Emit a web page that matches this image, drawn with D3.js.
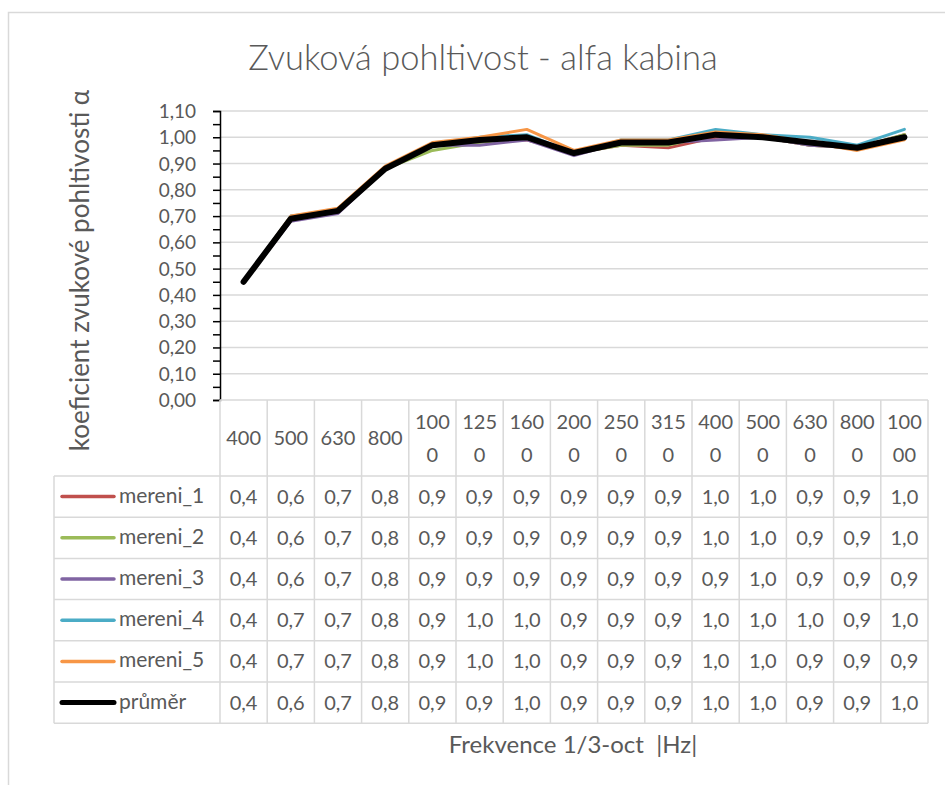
<!DOCTYPE html>
<html>
<head>
<meta charset="UTF-8">
<script src="https://cdn.jsdelivr.net/npm/d3@7"></script>
<style>
  body { margin: 0; background: #fff; }
  text { font-family: Lato, "Open Sans", sans-serif; fill: #595959; white-space: pre; }
  line.grid { stroke: #d9d9d9; stroke-width: 1.5; }
  line.cell { stroke: #d9d9d9; stroke-width: 1.5; }
  path.series { fill: none; stroke-linejoin: round; stroke-linecap: round; }
</style>
</head>
<body>
<script>
// categories (1/3 octave bands, Hz)
var categories = ["400", "500", "630", "800", "1000", "1250", "1600", "2000", "2500", "3150", "4000", "5000", "6300", "8000", "10000"];
// how the header cells wrap the labels
var headerLines = [["400"], ["500"], ["630"], ["800"], ["100", "0"], ["125", "0"], ["160", "0"], ["200", "0"], ["250", "0"], ["315", "0"], ["400", "0"], ["500", "0"], ["630", "0"], ["800", "0"], ["100", "00"]];

var seriesNames = ["mereni_1", "mereni_2", "mereni_3", "mereni_4", "mereni_5", "průměr"];
var seriesColors = ["#c0504d", "#9bbb59", "#8064a2", "#4bacc6", "#f79646", "#000000"];

var mereni_1 = [0.45, 0.69, 0.72, 0.88, 0.97, 0.99, 0.99, 0.94, 0.97, 0.96, 1.00, 1.00, 0.97, 0.96, 1.01];
var mereni_2 = [0.45, 0.69, 0.72, 0.88, 0.95, 0.98, 1.00, 0.94, 0.97, 0.97, 1.01, 1.00, 0.97, 0.96, 1.01];
var mereni_3 = [0.45, 0.68, 0.71, 0.88, 0.97, 0.97, 0.99, 0.93, 0.98, 0.98, 0.99, 1.00, 0.97, 0.96, 1.00];
var mereni_4 = [0.45, 0.70, 0.72, 0.88, 0.97, 1.00, 1.01, 0.94, 0.99, 0.99, 1.03, 1.01, 1.00, 0.97, 1.03];
var mereni_5 = [0.45, 0.70, 0.73, 0.89, 0.98, 1.00, 1.03, 0.95, 0.99, 0.99, 1.02, 1.01, 0.98, 0.95, 0.99];
var prumer   = [0.45, 0.69, 0.72, 0.88, 0.97, 0.99, 1.00, 0.94, 0.98, 0.98, 1.01, 1.00, 0.98, 0.96, 1.00];
var seriesValues = [mereni_1, mereni_2, mereni_3, mereni_4, mereni_5, prumer];

// values as printed in the data table
var tableText = [
  ["0,4", "0,6", "0,7", "0,8", "0,9", "0,9", "0,9", "0,9", "0,9", "0,9", "1,0", "1,0", "0,9", "0,9", "1,0"],
  ["0,4", "0,6", "0,7", "0,8", "0,9", "0,9", "0,9", "0,9", "0,9", "0,9", "1,0", "1,0", "0,9", "0,9", "1,0"],
  ["0,4", "0,6", "0,7", "0,8", "0,9", "0,9", "0,9", "0,9", "0,9", "0,9", "0,9", "1,0", "0,9", "0,9", "0,9"],
  ["0,4", "0,7", "0,7", "0,8", "0,9", "1,0", "1,0", "0,9", "0,9", "0,9", "1,0", "1,0", "1,0", "0,9", "1,0"],
  ["0,4", "0,7", "0,7", "0,8", "0,9", "1,0", "1,0", "0,9", "0,9", "0,9", "1,0", "1,0", "0,9", "0,9", "0,9"],
  ["0,4", "0,6", "0,7", "0,8", "0,9", "0,9", "1,0", "0,9", "0,9", "0,9", "1,0", "1,0", "0,9", "0,9", "1,0"]
];

var yTicks = d3.range(0, 1.101, 0.1);
var yMinorTicks = d3.range(0, 1.101, 0.05);

var width = 945, height = 785;
var l = 220, r = 928, t = 111, b = 400;
var legendLeft = 54, headerBottom = 476, rowH = 41.2;
var tableFont = "20px";

var svg = d3.select("body").append("svg")
  .attr("width", width)
  .attr("height", height);

/* chart frame */
svg.append("rect")
  .attr("x", 8.5).attr("y", 12.5)
  .attr("width", 960).attr("height", 800)
  .attr("fill", "#fff")
  .attr("stroke", "#d9d9d9")
  .attr("stroke-width", 1.5);

var x = d3.scaleBand().domain(categories).range([l, r]);
var y = d3.scaleLinear().domain([0, 1.1]).range([b, t]);

/* title */
svg.append("text")
  .attr("x", 483).attr("y", 70)
  .attr("text-anchor", "middle")
  .style("font-size", "34.5px")
  .style("font-weight", 300)
  .text("Zvuková pohltivost - alfa kabina");

/* grid */
svg.selectAll("line.grid")
  .data(yTicks.slice(1))
  .enter().append("line")
  .attr("class", "grid")
  .attr("x1", l).attr("x2", r)
  .attr("y1", function(d) { return y(d); })
  .attr("y2", function(d) { return y(d); });

/* y axis */
var yAxis = svg.append("g")
  .attr("transform", "translate(" + l + ",0)")
  .call(d3.axisLeft(y).tickValues(yMinorTicks).tickSize(7).tickFormat(""));
yAxis.select(".domain").attr("stroke", "#000").attr("stroke-width", 1.5);
yAxis.selectAll(".tick line").attr("stroke", "#000").attr("stroke-width", 1.5);

svg.selectAll("text.ytick")
  .data(yTicks)
  .enter().append("text")
  .attr("class", "ytick")
  .attr("x", 196)
  .attr("y", function(d) { return y(d) + 7; })
  .attr("text-anchor", "end")
  .style("font-size", "19px")
  .text(function(d) { return d3.format(".2f")(d).replace(".", ","); });

/* y axis title */
svg.append("text")
  .attr("transform", "translate(89," + ((t + b) / 2 + 15) + ") rotate(-90)")
  .attr("text-anchor", "middle")
  .style("font-size", "26px")
  .text("koeficient zvukové pohltivosti α");

/* data table */
var rowsY = d3.range(seriesNames.length + 1).map(function(i) { return headerBottom + i * rowH; });
var tableBottom = rowsY[rowsY.length - 1];

// horizontal lines
svg.append("line").attr("class", "cell")
  .attr("x1", l).attr("x2", r).attr("y1", b).attr("y2", b);
svg.selectAll("line.hrow")
  .data(rowsY)
  .enter().append("line")
  .attr("class", "cell")
  .attr("x1", legendLeft).attr("x2", r)
  .attr("y1", function(d) { return d; })
  .attr("y2", function(d) { return d; });

// vertical lines
var colEdges = categories.map(function(c) { return x(c); }).concat([r]);
svg.selectAll("line.vcol")
  .data(colEdges)
  .enter().append("line")
  .attr("class", "cell")
  .attr("x1", function(d) { return d; }).attr("x2", function(d) { return d; })
  .attr("y1", b).attr("y2", tableBottom);
svg.append("line").attr("class", "cell")
  .attr("x1", legendLeft).attr("x2", legendLeft)
  .attr("y1", headerBottom).attr("y2", tableBottom);

// header labels
var header = svg.selectAll("text.header")
  .data(headerLines)
  .enter().append("text")
  .attr("class", "header")
  .attr("text-anchor", "middle")
  .style("font-size", tableFont);
header.each(function(lines, i) {
  var cx = x(categories[i]) + x.bandwidth() / 2;
  var y0 = (b + headerBottom) / 2 + 7 - (lines.length - 1) * 16.5;
  d3.select(this).selectAll("tspan")
    .data(lines)
    .enter().append("tspan")
    .attr("x", cx)
    .attr("y", function(d, j) { return y0 + j * 33; })
    .text(function(d) { return d; });
});

// legend cells
seriesNames.forEach(function(name, i) {
  var cy = rowsY[i] + rowH / 2;
  svg.append("line")
    .attr("x1", 62).attr("x2", 114)
    .attr("y1", cy).attr("y2", cy)
    .attr("stroke", seriesColors[i])
    .attr("stroke-width", i === 5 ? 5 : 3.5)
    .attr("stroke-linecap", "round");
  svg.append("text")
    .attr("x", 119).attr("y", cy + 6)
    .style("font-size", "21px")
    .text(name);
  svg.selectAll("text.val" + i)
    .data(tableText[i])
    .enter().append("text")
    .attr("x", function(d, j) { return x(categories[j]) + x.bandwidth() / 2; })
    .attr("y", cy + 7)
    .attr("text-anchor", "middle")
    .style("font-size", tableFont)
    .text(function(d) { return d; });
});

/* x axis title */
svg.append("text")
  .attr("x", 573).attr("y", 753)
  .attr("text-anchor", "middle")
  .style("font-size", "24px")
  .text("Frekvence 1/3-oct  |Hz|");

/* series lines */
var line = d3.line()
  .x(function(d, j) { return x(categories[j]) + x.bandwidth() / 2; })
  .y(function(d) { return y(d); });

svg.selectAll("path.series")
  .data(seriesValues)
  .enter().append("path")
  .attr("class", "series")
  .attr("d", line)
  .attr("stroke", function(d, i) { return seriesColors[i]; })
  .attr("stroke-width", function(d, i) { return i === 5 ? 6 : 3; });
</script>
</body>
</html>
